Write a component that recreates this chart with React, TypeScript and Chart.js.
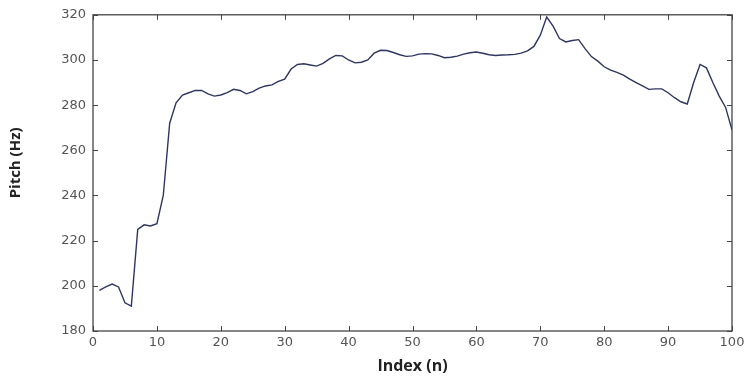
import React, { useEffect, useRef } from "react";
import { Chart, registerables } from "chart.js";

Chart.register(...registerables);

const indices: number[] = Array.from({ length: 100 }, (_, i) => i + 1);
const pitch: number[] = [
  198, 199.5, 200.8, 199.5, 192.5, 191, 225, 227, 226.5, 227.5,
  240, 272, 281, 284.5, 285.5, 286.5, 286.5, 285, 284, 284.5,
  285.5, 287, 286.5, 285, 286, 287.5, 288.5, 289, 290.5, 291.5,
  296, 298, 298.3, 297.8, 297.3, 298.5, 300.5, 302, 301.8, 300,
  298.7, 299, 300, 303, 304.3, 304.2, 303.3, 302.3, 301.6, 301.8,
  302.6, 302.8, 302.7, 302, 301, 301.2, 301.7, 302.6, 303.2, 303.5,
  303, 302.3, 302, 302.2, 302.3, 302.5, 303, 304, 306, 311,
  319, 315, 309.5, 308, 308.6, 309, 305, 301.5, 299.5, 297,
  295.5, 294.5, 293.3, 291.5, 290, 288.5, 287, 287.2, 287.2, 285.5,
  283.3, 281.5, 280.5, 290, 298, 296.5, 290, 284, 279, 269,
];
const xTicks: number[] = [0, 10, 20, 30, 40, 50, 60, 70, 80, 90, 100];
const yTicks: number[] = [180, 200, 220, 240, 260, 280, 300, 320];
const xLabel = "Index (n)";
const yLabel = "Pitch (Hz)";

const boxPlugin = {
  id: "matlabBox",
  afterDraw(chart: any) {
    const { ctx, chartArea } = chart;
    const { left, right, top, bottom } = chartArea;
    const xs = chart.scales.x;
    const ys = chart.scales.y;
    const len = 5;
    ctx.save();
    ctx.strokeStyle = "#444";
    ctx.lineWidth = 1;
    ctx.beginPath();
    for (const t of xTicks) {
      const px = Math.round(xs.getPixelForValue(t)) + 0.5;
      ctx.moveTo(px, bottom);
      ctx.lineTo(px, bottom - len);
      ctx.moveTo(px, top);
      ctx.lineTo(px, top + len);
    }
    for (const t of yTicks) {
      const py = Math.round(ys.getPixelForValue(t)) + 0.5;
      ctx.moveTo(left, py);
      ctx.lineTo(left + len, py);
      ctx.moveTo(right, py);
      ctx.lineTo(right - len, py);
    }
    ctx.stroke();
    ctx.lineWidth = 1.3;
    ctx.strokeRect(left, top, right - left, bottom - top);
    ctx.restore();
  },
};

// draws the y title slightly above the plot centre, as in the reference
const yTitlePlugin = {
  id: "yTitle",
  afterDraw(chart: any) {
    const { ctx, chartArea } = chart;
    const cy = (chartArea.top + chartArea.bottom) / 2 - 10;
    ctx.save();
    ctx.translate(16, cy);
    ctx.rotate(-Math.PI / 2);
    ctx.font = "bold 15px 'Open Sans'";
    ctx.fillStyle = "#222";
    ctx.textAlign = "center";
    ctx.textBaseline = "middle";
    ctx.fillText(yLabel, 0, 0);
    ctx.restore();
  },
};

export default function App() {
  const ref = useRef<HTMLCanvasElement | null>(null);
  useEffect(() => {
    if (!ref.current) return;
    const chart = new Chart(ref.current, {
      type: "line",
      data: {
        datasets: [
          {
            data: indices.map((x, i) => ({ x, y: pitch[i] })),
            borderColor: "#2f3562",
            borderWidth: 1.4,
            pointRadius: 0,
            tension: 0,
            fill: false,
          },
        ],
      },
      options: {
        animation: false,
        responsive: true,
        maintainAspectRatio: false,
        layout: { padding: { left: 0, right: 17, top: 12, bottom: 0 } },
        plugins: { legend: { display: false }, tooltip: { enabled: false } },
        scales: {
          x: {
            type: "linear",
            min: 0,
            max: 100,
            afterFit: (s: any) => {
              s.height = 48;
            },
            afterBuildTicks: (s: any) => {
              s.ticks = xTicks.map((v) => ({ value: v }));
            },
            grid: { display: false, drawTicks: false },
            border: { display: false },
            ticks: {
              padding: 4,
              color: "#555",
              font: { family: "DejaVu Sans", size: 13 },
              maxRotation: 0,
            },
            title: {
              display: true,
              text: xLabel,
              color: "#222",
              font: { family: "Open Sans", size: 16, weight: "bold" },
              padding: { top: 0, bottom: 3 },
            },
          },
          y: {
            type: "linear",
            min: 180,
            max: 320,
            afterFit: (s: any) => {
              s.width = 93;
            },
            afterBuildTicks: (s: any) => {
              s.ticks = yTicks.map((v) => ({ value: v }));
            },
            grid: { display: false, drawTicks: false },
            border: { display: false },
            ticks: {
              padding: 7,
              color: "#555",
              font: { family: "DejaVu Sans", size: 13 },
            },
            title: { display: false },
          },
        },
      },
      plugins: [boxPlugin, yTitlePlugin],
    });
    return () => chart.destroy();
  }, []);
  return (
    <div
      style={{
        position: "absolute",
        left: 0,
        top: 0,
        width: 749,
        height: 379,
        background: "#fff",
      }}
    >
      <canvas ref={ref} />
    </div>
  );
}
